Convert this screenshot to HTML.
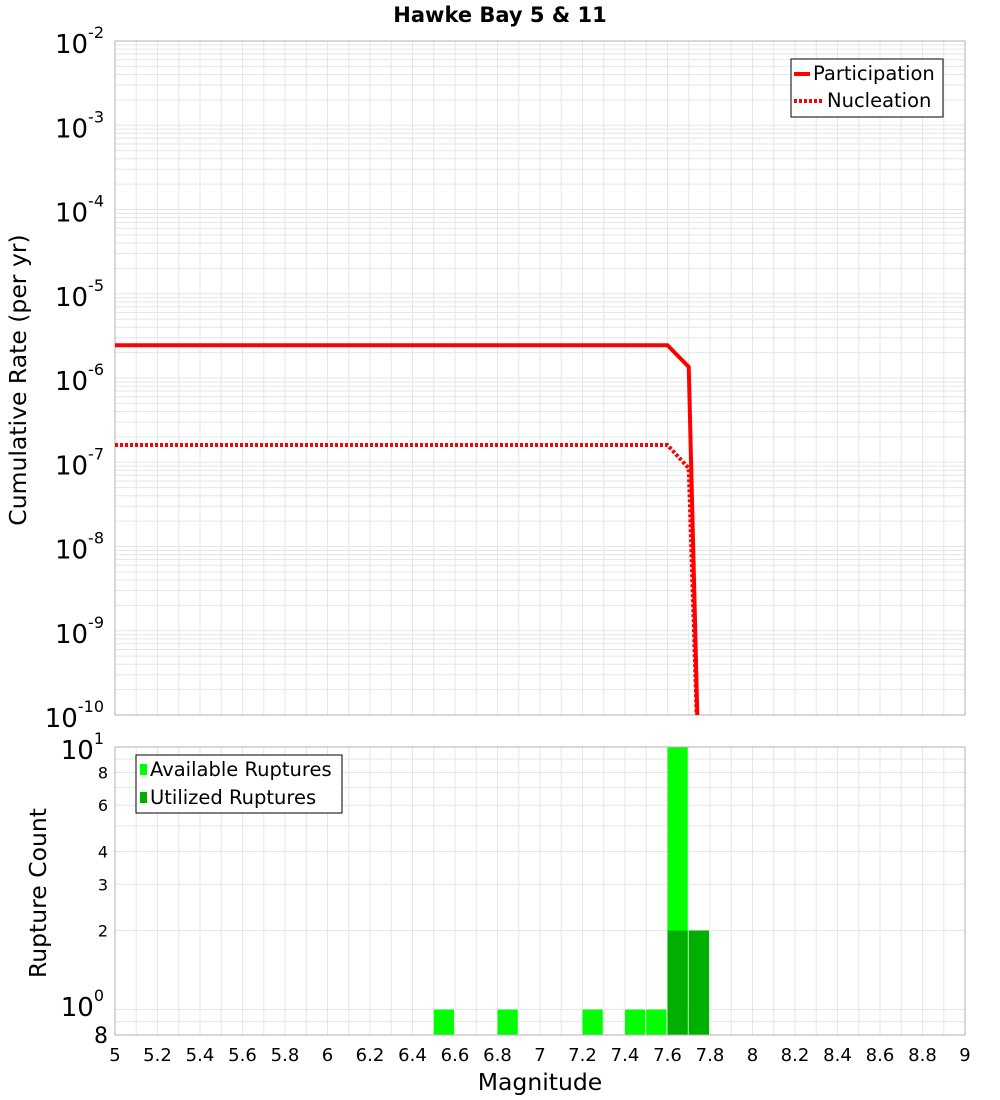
<!DOCTYPE html>
<html><head><meta charset="utf-8"><style>
body{margin:0;background:#fff;}
svg{display:block;font-family:"DejaVu Sans","Liberation Sans",sans-serif;}
</style></head><body>
<svg id="c" width="1000" height="1100">
<text x="500" y="22" text-anchor="middle" font-size="21" font-weight="bold">Hawke Bay 5 &amp; 11</text>
<g id="topPlot"></g>
<g id="botPlot"></g>
<text transform="translate(26,380) rotate(-90)" text-anchor="middle" font-size="23.5">Cumulative Rate (per yr)</text>
<text transform="translate(46,893) rotate(-90)" text-anchor="middle" font-size="23.5">Rupture Count</text>
<text x="540" y="1090" text-anchor="middle" font-size="23.5">Magnitude</text>
<g>
<rect x="791" y="59" width="152" height="58" fill="#fff" stroke="#000"/>
<line x1="794" y1="74" x2="810" y2="74" stroke="red" stroke-width="4"/>
<text x="813" y="80" font-size="19.5">Participation</text>
<line x1="794" y1="101" x2="822" y2="101" stroke="red" stroke-width="4" stroke-dasharray="3,2"/>
<text x="827" y="107" font-size="19.5">Nucleation</text>
</g>
<g>
<rect x="136" y="755" width="206" height="58" fill="#fff" stroke="#000"/>
<rect x="140" y="764" width="7" height="11" fill="#00ff00"/>
<text x="150" y="776" font-size="19.5">Available Ruptures</text>
<rect x="140" y="792" width="7" height="11" fill="#00b000"/>
<text x="150" y="804" font-size="19.5">Utilized Ruptures</text>
</g>
</svg>
<script>
const partMags=[5,7.6,7.7,7.75];
const partRates=[2.45e-6,2.45e-6,1.35e-6,1e-11];
const nuclMags=[5,7.6,7.7,7.75];
const nuclRates=[1.6e-7,1.6e-7,8.5e-8,1e-11];
const binCenters=[6.55,6.85,7.25,7.45,7.55,7.65,7.75];
const availCounts=[1,1,1,1,1,10,2];
const utilCenters=[7.65,7.75];
const utilCounts=[2,2];
const xTicks=[5,5.2,5.4,5.6,5.8,6,6.2,6.4,6.6,6.8,7,7.2,7.4,7.6,7.8,8,8.2,8.4,8.6,8.8,9];
const rateExps=[-2,-3,-4,-5,-6,-7,-8,-9,-10];
const countTicks=[8,6,4,3,2];

const NS="http://www.w3.org/2000/svg";
const X0=115,X1=965;
const xs=m=>X0+(m-5)/4*(X1-X0);
const TY0=41,TY1=715;
const yR=v=>TY0+(-2-Math.log10(v))/8*(TY1-TY0);
const BY0=747,BY1=1035;
const yC=v=>BY0+(1-Math.log10(v))/(1-Math.log10(0.8))*(BY1-BY0);
function mk(p,t,a){const e=document.createElementNS(NS,t);for(const k in a)e.setAttribute(k,a[k]);p.appendChild(e);return e;}
const gTop=document.getElementById('topPlot'),gBot=document.getElementById('botPlot');
const svgEl=document.getElementById('c');
const defs=mk(svgEl,'defs',{});
const cp=mk(defs,'clipPath',{id:'ct'});mk(cp,'rect',{x:X0,y:TY0,width:X1-X0,height:TY1-TY0});
for(let i=0;i<=40;i++){const m=5+i*0.1;const l=mk(gTop,'line',{x1:xs(m),x2:xs(m),y1:TY0,y2:TY1,stroke:'#e6e6e6'});

}
for(let e=-10;e<-2;e++)for(let k=1;k<10;k++){const yy=yR(k*Math.pow(10,e));mk(gTop,'line',{x1:X0,x2:X1,y1:yy,y2:yy,stroke:'#e6e6e6'});}
mk(gTop,'rect',{x:X0,y:TY0,width:X1-X0,height:TY1-TY0,fill:'none',stroke:'#b0b0b0'});
rateExps.forEach(e=>{const t=mk(gTop,'text',{x:104,y:yR(Math.pow(10,e))+12,'text-anchor':'end','font-size':'26'});


t.textContent='10';const s=mk(t,'tspan',{dy:'-15','font-size':'16'});s.textContent=String(e);});
function path(ms,vs){return ms.map((m,i)=>(i?'L':'M')+xs(m)+','+yR(vs[i])).join('');}
const pl=mk(gTop,'path',{d:path(partMags,partRates),fill:'none',stroke:'red','stroke-width':4,'clip-path':'url(#ct)'});


const nl=mk(gTop,'path',{d:path(nuclMags,nuclRates),fill:'none',stroke:'red','stroke-width':4,'stroke-dasharray':'3,2','clip-path':'url(#ct)'});


for(let i=0;i<=40;i++){const m=5+i*0.1;mk(gBot,'line',{x1:xs(m),x2:xs(m),y1:BY0,y2:BY1,stroke:'#e6e6e6'});}
[0.8,0.9,1,2,3,4,5,6,7,8,9].forEach(v=>{const yy=yC(v);mk(gBot,'line',{x1:X0,x2:X1,y1:yy,y2:yy,stroke:'#e6e6e6'});});
binCenters.forEach((c,i)=>{const r=mk(gBot,'rect',{x:xs(c-0.05),y:yC(availCounts[i]),width:xs(c+0.05)-xs(c-0.05)-1,height:BY1-yC(availCounts[i]),fill:'#00ff00'});

});
utilCenters.forEach((c,i)=>{const r=mk(gBot,'rect',{x:xs(c-0.05),y:yC(utilCounts[i]),width:xs(c+0.05)-xs(c-0.05)-1,height:BY1-yC(utilCounts[i]),fill:'#00b000'});

});
mk(gBot,'rect',{x:X0,y:BY0,width:X1-X0,height:BY1-BY0,fill:'none',stroke:'#b0b0b0'});
countTicks.forEach(v=>{const t=mk(gBot,'text',{x:108,y:yC(v)+6,'text-anchor':'end','font-size':'16'});t.textContent=String(v);

});
[[1,'0',1016],[10,'1',759]].forEach(([v,e,yy])=>{const t=mk(gBot,'text',{x:104,y:yy,'text-anchor':'end','font-size':'26'});t.textContent='10';


const s=mk(t,'tspan',{dy:'-15','font-size':'16'});s.textContent=e;});
{const t=mk(gBot,'text',{x:108,y:1043,'text-anchor':'end','font-size':'22'});t.textContent='8';}
xTicks.forEach(m=>{const t=mk(gBot,'text',{x:xs(m),y:1061,'text-anchor':'middle','font-size':'18'});t.textContent=String(m);

});
</script>
</body></html>
